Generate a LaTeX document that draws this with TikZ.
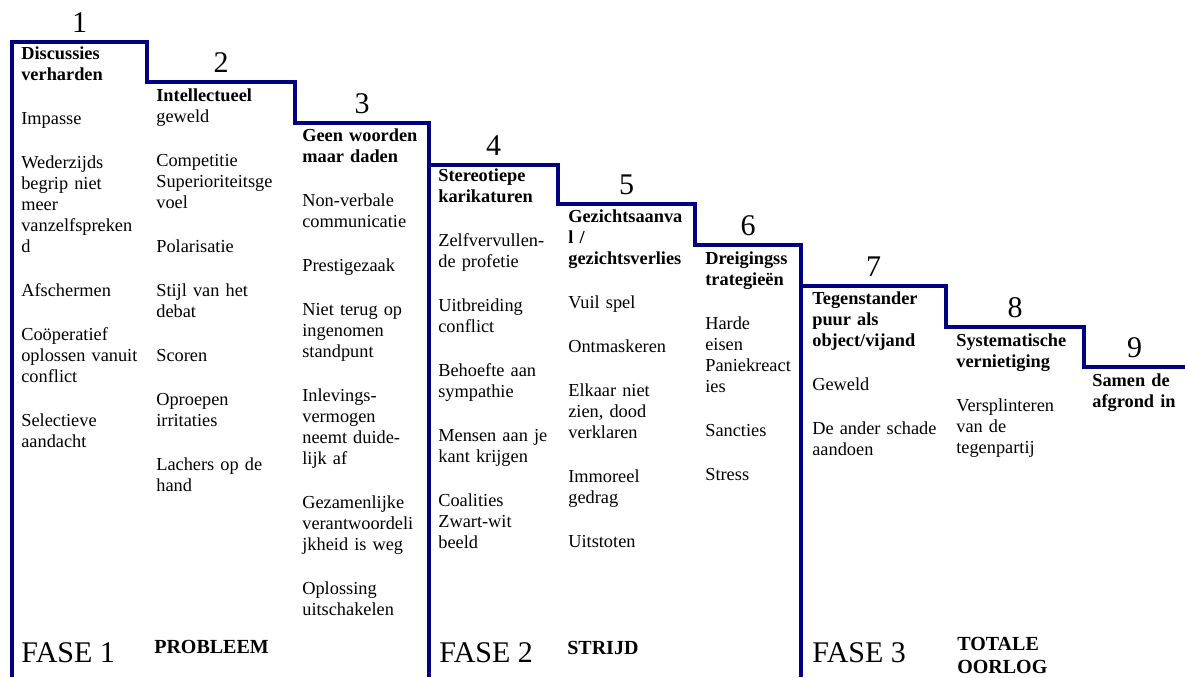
\documentclass[tikz,border=0pt]{standalone}
\usepackage{fontspec}
\setmainfont{Liberation Serif}
\definecolor{stairblue}{RGB}{0,0,128}
\newcommand{\ig}{13.8pt}
\tikzset{
	stair/.style={stairblue, line width=2.6pt, line join=miter},
	stepnum/.style={anchor=base, inner sep=0pt, font=\fontsize{18}{21}\selectfont},
	column/.style={anchor=base west, align=left, text width=3cm, inner sep=0pt, font=\fontsize{11}{12.6}\selectfont},
	fase/.style={anchor=base west, inner sep=0pt, font=\fontsize{18}{21}\selectfont},
	phasename/.style={anchor=base west, align=left, text width=2cm, inner sep=0pt, font=\fontsize{12}{13.8}\selectfont\bfseries},
}
\begin{document}
\begin{tikzpicture}[x=0.6pt, y=-0.6pt]
	\path[use as bounding box] (0,0) rectangle (1185,677);
	% de trap
	\draw[stair] (12,677) -- (12,42) -- (147,42) -- (147,82) -- (295,82) -- (295,123) -- (429,123) -- (429,165)
		-- (558,165) -- (558,204) -- (695,204) -- (695,245) -- (801,245) -- (801,286) -- (946,286)
		-- (946,327) -- (1084,327) -- (1084,367) -- (1185,367);
	\draw[stair] (429,165) -- (429,677);
	\draw[stair] (801,286) -- (801,677);
	% nummers boven de treden
	\foreach \n/\x/\y in {1/79.5/42, 2/221/82, 3/362/123, 4/493.5/165, 5/626.5/204, 6/748/245, 7/873.5/286, 8/1015/327, 9/1134.5/367}
		\node[stepnum] (n\n) at (\x,\y-10) {\n};
	% kolommen
	\node[column] (c1) at (21,59) {\textbf{Discussies}\\\textbf{verharden}\\[\ig]Impasse\\[\ig]Wederzijds\\begrip niet\\meer\\vanzelfspreken\\d\\[\ig]Afschermen\\[\ig]Coöperatief\\oplossen vanuit\\conflict\\[\ig]Selectieve\\aandacht};
	\node[column] (c2) at (156,101) {\textbf{Intellectueel}\\geweld\\[\ig]Competitie\\Superioriteitsge\\voel\\[\ig]Polarisatie\\[\ig]Stijl van het\\debat\\[\ig]Scoren\\[\ig]Oproepen\\irritaties\\[\ig]Lachers op de\\hand};
	\node[column] (c3) at (302,141) {\textbf{Geen woorden}\\\textbf{maar daden}\\[\ig]Non-verbale\\communicatie\\[\ig]Prestigezaak\\[\ig]Niet terug op\\ingenomen\\standpunt\\[\ig]Inlevings-\\vermogen\\neemt duide-\\lijk af\\[\ig]Gezamenlijke\\verantwoordeli\\jkheid is weg\\[\ig]Oplossing\\uitschakelen};
	\node[column] (c4) at (438,181) {\textbf{Stereotiepe}\\\textbf{karikaturen}\\[\ig]Zelfvervullen-\\de profetie\\[\ig]Uitbreiding\\conflict\\[\ig]Behoefte aan\\sympathie\\[\ig]Mensen aan je\\kant krijgen\\[\ig]Coalities\\Zwart-wit\\beeld};
	\node[column] (c5) at (568,222) {\textbf{Gezichtsaanva}\\\textbf{l /}\\\textbf{gezichtsverlies}\\[\ig]Vuil spel\\[\ig]Ontmaskeren\\[\ig]Elkaar niet\\zien, dood\\verklaren\\[\ig]Immoreel\\gedrag\\[\ig]Uitstoten};
	\node[column] (c6) at (705,264) {\textbf{Dreigingss}\\\textbf{trategieën}\\[\ig]Harde\\eisen\\Paniekreact\\ies\\[\ig]Sancties\\[\ig]Stress};
	\node[column] (c7) at (812,304) {\textbf{Tegenstander}\\\textbf{puur als}\\\textbf{object/vijand}\\[\ig]Geweld\\[\ig]De ander schade\\aandoen};
	\node[column] (c8) at (956,346) {\textbf{Systematische}\\\textbf{vernietiging}\\[\ig]Versplinteren\\van de\\tegenpartij};
	\node[column] (c9) at (1092,386) {\textbf{Samen de}\\\textbf{afgrond in}};
	% fasen onderaan
	\node[fase] (fase1) at (21,662) {FASE 1};
	\node[phasename] (probleem) at (154,653) {PROBLEEM};
	\node[fase] (fase2) at (439,662) {FASE 2};
	\node[phasename] (strijd) at (567,654) {STRIJD};
	\node[fase] (fase3) at (812,662) {FASE 3};
	\node[phasename] (oorlog) at (957,650) {TOTALE\\OORLOG};
\end{tikzpicture}
\end{document}
